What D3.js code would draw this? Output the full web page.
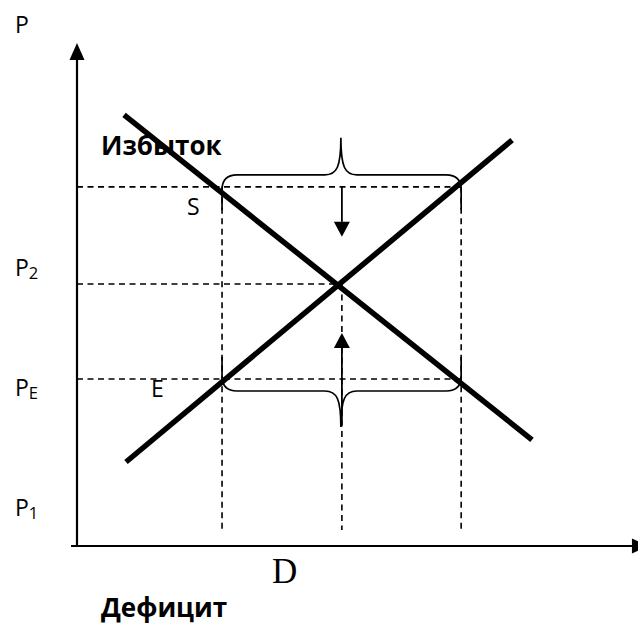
<!DOCTYPE html>
<html><head><meta charset="utf-8">
<script src="https://cdn.jsdelivr.net/npm/d3@7"></script>
<style>html,body{margin:0;padding:0;background:#fff;} svg{display:block;}</style>
</head><body><svg id="c" width="638" height="626"></svg>
<script>
// ---- data (abstract units: quantity 0..100, price 0..100) ----
const quantityLevels = [25.9, 47.3, 68.6];      // Q at shortage/surplus ends, equilibrium Q, other end
const priceLevels = [71.4, 52.1, 33.2];         // high price, equilibrium price, low price
const demandLine = [[8.4, 85.7], [81.25, 21.1]];
const supplyLine = [[8.75, 16.7], [77.7, 80.7]];
const priceLabelMain = ["P", "P", "P", "P"];
const priceLabelSub = ["", "2", "E", "1"];
const priceLabelValues = [102, 53.7, 29.8, 6.0];
const textLabels = ["Избыток", "S", "E", "D", "Дефицит"];

const svg = d3.select("#c");
const x = d3.scaleLinear().domain([0, 100]).range([77, 637]);
const y = d3.scaleLinear().domain([0, 100]).range([546, 43]);
const line = d3.line().x(d => x(d[0])).y(d => y(d[1]));

const [qL, qE, qH] = quantityLevels;
const [pH, pE, pL] = priceLevels;

// ---- dashed guides ----
const dash = "6,4.5";
const guides = [
  [[0, pH], [qH, pH]],
  [[0, pE], [qE, pE]],
  [[0, pL], [qH, pL]],
  [[qL, pH], [qL, 3.2]],
  [[qE, pE], [qE, 3.2]],
  [[qH, pH], [qH, 3.2]]
];
svg.selectAll(".guide").data(guides).enter().append("path")
  .attr("d", line).attr("fill", "none").attr("stroke", "#000")
  .attr("stroke-width", 1.6).attr("stroke-dasharray", dash);

// ---- axes ----
svg.append("path").attr("d", line([[0, 0.1], [0, 96.6]]))
  .attr("stroke", "#000").attr("stroke-width", 2.2).attr("fill", "none");
svg.append("path").attr("d", `M${x(0)-7.5},${y(96.6)} L${x(0)},${y(100)} L${x(0)+7.5},${y(96.6)} Z`)
  .attr("fill", "#000");
svg.append("path").attr("d", line([[-1.07, 0], [99.1, 0]]))
  .attr("stroke", "#000").attr("stroke-width", 2.2).attr("fill", "none");
svg.append("path").attr("d", `M${x(99.1)},${y(0)-7.5} L${x(102)},${y(0)} L${x(99.1)},${y(0)+7.5} Z`)
  .attr("fill", "#000");

// ---- supply & demand ----
[demandLine, supplyLine].forEach(l => {
  svg.append("path").attr("d", line(l)).attr("fill", "none")
    .attr("stroke", "#000").attr("stroke-width", 5.5).attr("stroke-linecap", "butt");
});

// ---- braces ----
function brace(x1, x2, yEnd, yMid, yTip, xm) {
  const s = Math.sign(yTip - yMid);
  const r = 15;
  return `M${x1},${yEnd} L${x1},${yMid - s*r} Q${x1},${yMid} ${x1+r},${yMid} ` +
         `L${xm-16},${yMid} C${xm-4},${yMid} ${xm},${yMid + s*8} ${xm},${yTip} ` +
         `C${xm},${yMid + s*8} ${xm+4},${yMid} ${xm+16},${yMid} ` +
         `L${x2-r},${yMid} Q${x2},${yMid} ${x2},${yMid - s*r} L${x2},${yEnd}`;
}
svg.append("path").attr("d", brace(x(qL), x(qH), y(pH) + 23, y(pH) - 12, y(pH) - 49, x(qE) - 1))
  .attr("fill", "none").attr("stroke", "#000").attr("stroke-width", 1.7);
svg.append("path").attr("d", brace(x(qL), x(qH), y(pL) - 22, y(pL) + 12, y(pL) + 48, x(qE) - 1))
  .attr("fill", "none").attr("stroke", "#000").attr("stroke-width", 1.7);

// ---- arrows ----
function arrow(x0, y0, y1) {
  const dir = Math.sign(y1 - y0);
  const hb = y1 - dir * 15;
  svg.append("path").attr("d", `M${x0},${y0} L${x0},${hb}`)
    .attr("stroke", "#000").attr("stroke-width", 1.8);
  svg.append("path").attr("d", `M${x0-8},${hb} L${x0},${y1} L${x0+8},${hb} Z`).attr("fill", "#000");
}
arrow(x(qE), y(pH), y(pH) + 50);
arrow(x(qE), y(pL) + 46, y(pL) - 46);

// ---- price labels ----
const sans = "'Open Sans', 'Noto Sans', sans-serif";
priceLabelMain.forEach((m, i) => {
  const t = svg.append("text").attr("x", 15).attr("y", y(priceLabelValues[i]))
    .attr("font-family", sans).attr("font-size", 23).attr("fill", "#000");
  t.append("tspan").text(m);
  if (priceLabelSub[i]) t.append("tspan").attr("dy", 3).attr("font-size", 16.5).text(priceLabelSub[i]);
});

// ---- other labels ----
svg.append("text").attr("x", 101).attr("y", 155).attr("font-family", sans)
  .attr("font-weight", "bold").attr("font-size", 26).text(textLabels[0]);
svg.append("text").attr("x", 187).attr("y", 215).attr("font-family", sans)
  .attr("font-size", 23).text(textLabels[1]);
svg.append("text").attr("x", 151).attr("y", 397).attr("font-family", sans)
  .attr("font-size", 23).text(textLabels[2]);
svg.append("text").attr("x", 272).attr("y", 583).attr("font-family", "'Liberation Serif', 'Times New Roman', serif")
  .attr("font-size", 35).text(textLabels[3]);
svg.append("text").attr("x", 101).attr("y", 617).attr("font-family", sans)
  .attr("font-weight", "bold").attr("font-size", 26).text(textLabels[4]);
</script></body></html>
